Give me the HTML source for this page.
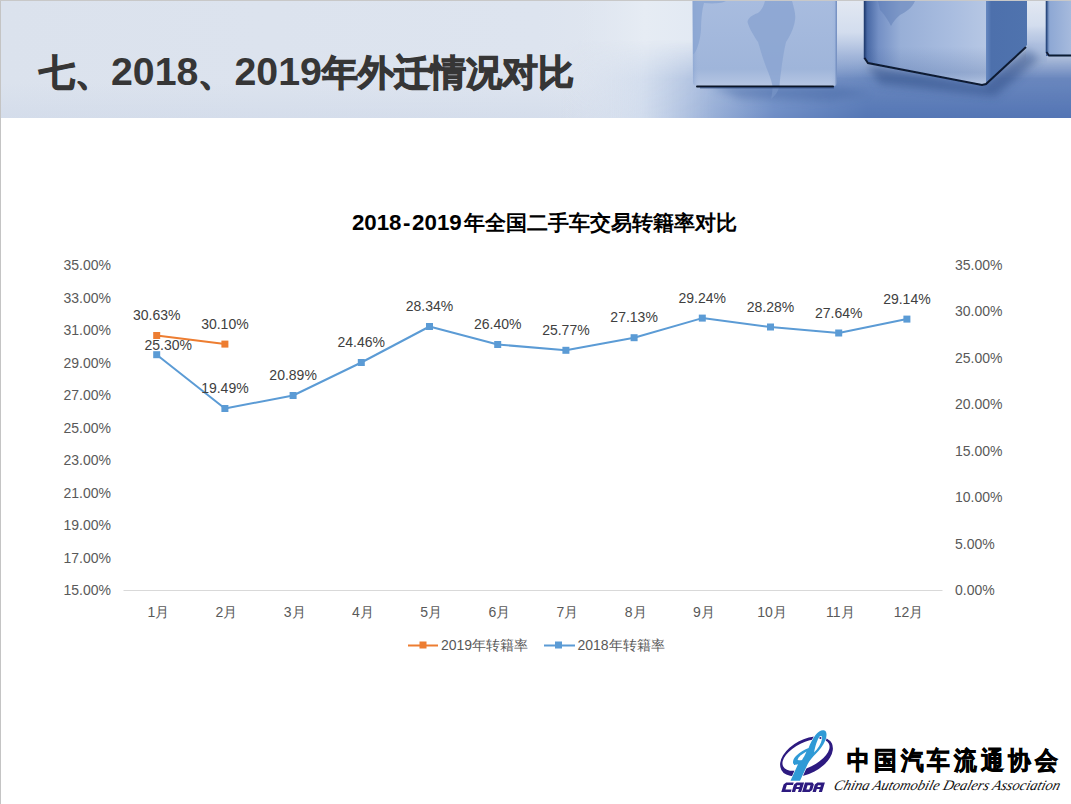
<!DOCTYPE html>
<html><head><meta charset="utf-8">
<style>
html,body{margin:0;padding:0;background:#fff;}
body{width:1071px;height:804px;overflow:hidden;position:relative;font-family:"Liberation Sans",sans-serif;}
#frameL{position:absolute;left:0;top:0;width:1px;height:804px;background:#c4c4c4;}
#frameT{position:absolute;left:0;top:0;width:1071px;height:1px;background:#c8c8c8;}
#hdr{position:absolute;left:1px;top:1px;width:1070px;height:116.5px;background:linear-gradient(180deg,rgba(220,227,238,0) 0%,rgba(220,227,238,0) 70%,rgba(205,215,232,0.5) 100%),linear-gradient(90deg,#dbe2ed 0%,#dde4ef 50%,#e2e8f1 64%,#e3e9f2 100%);}
#title{position:absolute;left:39px;top:48.5px;font-size:36px;font-weight:bold;color:#363636;white-space:nowrap;letter-spacing:0px;line-height:44px;}
#title .dg{font-size:39.3px;}
#title .cj{-webkit-text-stroke:1.2px #363636;}
svg{position:absolute;left:0;top:0;}
</style></head>
<body>
<div id="hdr"></div>
<svg id="photo" width="1071" height="117.5" viewBox="0 0 1071 117.5">
  <defs>
    <linearGradient id="floorH" x1="560" y1="0" x2="1071" y2="0" gradientUnits="userSpaceOnUse">
      <stop offset="0" stop-color="#d3dcec" stop-opacity="0"/>
      <stop offset="0.16" stop-color="#ccd8eb" stop-opacity="0.8"/>
      <stop offset="0.3" stop-color="#98afd7"/>
      <stop offset="0.42" stop-color="#6e8dc5"/>
      <stop offset="0.6" stop-color="#5577b5"/>
      <stop offset="1" stop-color="#5475b4"/>
    </linearGradient>
    <linearGradient id="floorV" x1="0" y1="40" x2="0" y2="117" gradientUnits="userSpaceOnUse">
      <stop offset="0" stop-color="#fff" stop-opacity="0"/>
      <stop offset="0.5" stop-color="#fff" stop-opacity="0.85"/>
      <stop offset="1" stop-color="#fff" stop-opacity="1"/>
    </linearGradient>
    <mask id="floorMask"><rect x="560" y="0" width="520" height="118" fill="url(#floorV)"/></mask>
    <linearGradient id="bgLight" x1="560" y1="0" x2="700" y2="0" gradientUnits="userSpaceOnUse">
      <stop offset="0" stop-color="#dde4ef" stop-opacity="0"/>
      <stop offset="0.6" stop-color="#e6ecf4"/>
      <stop offset="1" stop-color="#e2e9f3"/>
    </linearGradient>
    <linearGradient id="c1v" x1="0" y1="0" x2="0" y2="1">
      <stop offset="0" stop-color="#a8bcdf"/>
      <stop offset="0.8" stop-color="#9fb5da"/>
      <stop offset="1" stop-color="#b6c6e3"/>
    </linearGradient>
    <linearGradient id="c1h" x1="0" y1="0" x2="1" y2="0">
      <stop offset="0" stop-color="#7f9ccc" stop-opacity="0.5"/>
      <stop offset="0.05" stop-color="#a8bcdf" stop-opacity="0"/>
      <stop offset="0.95" stop-color="#a8bcdf" stop-opacity="0"/>
      <stop offset="1" stop-color="#8aa5d2" stop-opacity="0.4"/>
    </linearGradient>
    <linearGradient id="c2face" x1="864" y1="0" x2="986" y2="0" gradientUnits="userSpaceOnUse">
      <stop offset="0" stop-color="#25427a"/>
      <stop offset="0.03" stop-color="#4a6aa6"/>
      <stop offset="0.12" stop-color="#7490c5"/>
      <stop offset="0.3" stop-color="#98afd7"/>
      <stop offset="0.7" stop-color="#a8bcdf"/>
      <stop offset="1" stop-color="#b6c7e4"/>
    </linearGradient>
    <linearGradient id="c2shade" x1="0" y1="0" x2="0" y2="85" gradientUnits="userSpaceOnUse">
      <stop offset="0" stop-color="#3d5d98" stop-opacity="0"/>
      <stop offset="0.55" stop-color="#3d5d98" stop-opacity="0"/>
      <stop offset="0.85" stop-color="#3d5d98" stop-opacity="0.25"/>
      <stop offset="1" stop-color="#c0d0ea" stop-opacity="0.4"/>
    </linearGradient>
    <linearGradient id="c2side" x1="0" y1="0" x2="1" y2="0">
      <stop offset="0" stop-color="#6a8cc4"/>
      <stop offset="0.15" stop-color="#4d70ac"/>
      <stop offset="1" stop-color="#4f73ae"/>
    </linearGradient>
    <linearGradient id="gap2" x1="0" y1="0" x2="0" y2="1">
      <stop offset="0" stop-color="#e2e8f2"/>
      <stop offset="0.4" stop-color="#d3ddee"/>
      <stop offset="0.7" stop-color="#9db2d9" stop-opacity="0.7"/>
      <stop offset="1" stop-color="#6a8bc4" stop-opacity="0"/>
    </linearGradient>
    <linearGradient id="c3face" x1="0" y1="0" x2="1" y2="0">
      <stop offset="0" stop-color="#3a5a92"/>
      <stop offset="0.15" stop-color="#8ea8d4"/>
      <stop offset="1" stop-color="#a6badd"/>
    </linearGradient>
    <filter id="blur1" x="-20%" y="-50%" width="140%" height="200%"><feGaussianBlur stdDeviation="0.55"/></filter>
    <filter id="blur3" x="-30%" y="-80%" width="160%" height="260%"><feGaussianBlur stdDeviation="4"/></filter>
    <filter id="blur6" x="-30%" y="-80%" width="160%" height="260%"><feGaussianBlur stdDeviation="7"/></filter>
  </defs>
  <rect x="560" y="1" width="140" height="117" fill="url(#bgLight)"/>
  <!-- floor -->
  <g mask="url(#floorMask)"><rect x="560" y="0" width="511" height="118" fill="url(#floorH)"/></g>
  <!-- cube shadows on floor -->
  <polygon points="710,86 838,86 870,93 830,101 740,98" fill="#4566a3" opacity="0.45" filter="url(#blur3)"/>
  <polygon points="866,64 983,86 1027,47 1040,58 995,96 880,84" fill="#2c4a82" opacity="0.5" filter="url(#blur3)"/>
  <!-- gaps -->
  <rect x="836" y="1" width="29" height="78" fill="url(#gap2)"/>
  <rect x="1026" y="1" width="21" height="62" fill="url(#gap2)"/>
  <!-- cube 2 right face -->
  <polygon points="985,1 1027,1 1027,45 985,85" fill="url(#c2side)"/>
  <!-- cube 2 front -->
  <polygon points="864,1 986,1 986,85 870,64 864,58" fill="url(#c2face)"/><polygon points="864,1 986,1 986,85 870,64 864,58" fill="url(#c2shade)"/>
  <polyline points="864.5,1 864.5,59" fill="none" stroke="#233f73" stroke-width="1.5"/><polyline points="864.5,58 868,63 982,85 986,84 1026,47" fill="none" stroke="#0d1a33" stroke-width="2" filter="url(#blur1)"/>
  <!-- cube 3 -->
  <rect x="1046" y="1" width="25" height="55" fill="url(#c3face)"/>
  <polyline points="1046.5,1 1046.5,53" fill="none" stroke="#2b4a80" stroke-width="1.6"/><polyline points="1046.5,52 1049,55.5 1071,55.5" fill="none" stroke="#0d1a33" stroke-width="1.8" filter="url(#blur1)"/>
  <!-- cube 1 front -->
  <path d="M692.5,1 H837 V82 Q837,86 833,86 H697 Q693,86 693,82 Z" fill="url(#c1v)"/>
  <path d="M692.5,1 H837 V82 Q837,86 833,86 H697 Q693,86 693,82 Z" fill="url(#c1h)"/>
  <!-- map shapes -->
  <path d="M765,1 L792,1 C794,8 796,14 795,20 C794,28 790,36 786,42 C784,50 783,58 782,64 C781,72 780,78 779.5,86 L772.5,86 C771,78 768,72 765,64 C762,56 760,48 758,42 C754,36 749,28 747.5,22 C748,18 752,15 758,13 C762,10 764,5 765,1 Z" fill="#89a4d1" opacity="0.8"/>
  <path d="M772.5,86 L779.5,86 C778,92 775,96 771,99 C772,94 772.5,90 772.5,86 Z" fill="#7f9bcc" opacity="0.5"/>
  <path d="M693,1 L726,1 C722,3 716,4 704,3 C702,10 701,20 701,30 C700,40 698,48 694,54 L693,54 Z" fill="#8aa5d2" opacity="0.8"/>
  <path d="M878,1 L915,1 C912,8 906,12 900,15 C896,18 893,22 891,26 C888,20 884,14 880,10 Z" fill="#5a7ab4" opacity="0.45"/>
  
  <rect x="835.5" y="1" width="1.5" height="84" fill="#6a86bb" opacity="0.7"/><rect x="696" y="85.4" width="138" height="2" rx="1" fill="#0b1526"/><rect x="700" y="87" width="134" height="1.5" fill="#2a4375" opacity="0.6"/>
</svg>
<div id="frameL"></div><div id="frameT"></div>
<div id="title"><span class="cj">七、</span><span class="dg">2018</span><span class="cj">、</span><span class="dg">2019</span><span class="cj">年外迁情况对比</span></div>

<svg id="chart" width="1071" height="804" viewBox="0 0 1071 804" style="font-family:'Liberation Sans',sans-serif">
  <text y="230" font-weight="bold" fill="#000"><tspan x="351.9" font-size="22.3">2018</tspan><tspan font-size="22.3" dx="1.6">-</tspan><tspan x="412.1" font-size="22.3">2019</tspan><tspan x="463.8" font-size="20.6" style="-webkit-text-stroke:0.5px #000">年全国二手车交易转籍率对比</tspan></text>
  <g font-size="14" fill="#595959" text-anchor="end">
    <text x="111" y="270">35.00%</text>
    <text x="111" y="302.5">33.00%</text>
    <text x="111" y="335">31.00%</text>
    <text x="111" y="367.5">29.00%</text>
    <text x="111" y="400">27.00%</text>
    <text x="111" y="432.5">25.00%</text>
    <text x="111" y="465">23.00%</text>
    <text x="111" y="497.5">21.00%</text>
    <text x="111" y="530">19.00%</text>
    <text x="111" y="562.5">17.00%</text>
    <text x="111" y="595">15.00%</text>
  </g>
  <g font-size="14" fill="#595959" text-anchor="start">
    <text x="955" y="270">35.00%</text>
    <text x="955" y="316.4">30.00%</text>
    <text x="955" y="362.9">25.00%</text>
    <text x="955" y="409.3">20.00%</text>
    <text x="955" y="455.7">15.00%</text>
    <text x="955" y="502.1">10.00%</text>
    <text x="955" y="548.6">5.00%</text>
    <text x="955" y="595">0.00%</text>
  </g>
  <line x1="123.5" y1="590.5" x2="942.5" y2="590.5" stroke="#d9d9d9" stroke-width="1"/>
  <g font-size="14" fill="#595959" text-anchor="middle">
    <text x="158.3" y="617">1月</text>
    <text x="226.5" y="617">2月</text>
    <text x="294.7" y="617">3月</text>
    <text x="362.9" y="617">4月</text>
    <text x="431.1" y="617">5月</text>
    <text x="499.3" y="617">6月</text>
    <text x="567.5" y="617">7月</text>
    <text x="635.7" y="617">8月</text>
    <text x="703.9" y="617">9月</text>
    <text x="772.1" y="617">10月</text>
    <text x="840.3" y="617">11月</text>
    <text x="908.5" y="617">12月</text>
  </g>
  <g id="series">
<polyline points="156.7,354.7 224.9,408.5 293.1,395.5 361.3,362.5 429.5,326.5 497.7,344.5 565.9,350.3 634.1,337.7 702.3,318.1 770.5,327.0 838.7,333.0 906.9,319.1" fill="none" stroke="#5B9BD5" stroke-width="2" stroke-linejoin="round"/>
<rect x="153.2" y="351.2" width="7" height="7" fill="#5B9BD5"/>
<rect x="221.4" y="405.0" width="7" height="7" fill="#5B9BD5"/>
<rect x="289.6" y="392.0" width="7" height="7" fill="#5B9BD5"/>
<rect x="357.8" y="359.0" width="7" height="7" fill="#5B9BD5"/>
<rect x="426.0" y="323.0" width="7" height="7" fill="#5B9BD5"/>
<rect x="494.2" y="341.0" width="7" height="7" fill="#5B9BD5"/>
<rect x="562.4" y="346.8" width="7" height="7" fill="#5B9BD5"/>
<rect x="630.6" y="334.2" width="7" height="7" fill="#5B9BD5"/>
<rect x="698.8" y="314.6" width="7" height="7" fill="#5B9BD5"/>
<rect x="767.0" y="323.5" width="7" height="7" fill="#5B9BD5"/>
<rect x="835.2" y="329.5" width="7" height="7" fill="#5B9BD5"/>
<rect x="903.4" y="315.6" width="7" height="7" fill="#5B9BD5"/>
<polyline points="156.7,335.5 224.9,344.1" fill="none" stroke="#ED7D31" stroke-width="2" stroke-linejoin="round"/>
<rect x="153.2" y="332.0" width="7" height="7" fill="#ED7D31"/>
<rect x="221.4" y="340.6" width="7" height="7" fill="#ED7D31"/>
<g font-size="14" fill="#404040" text-anchor="middle">
<text x="168.3" y="349.8">25.30%</text>
<text x="224.9" y="393.0">19.49%</text>
<text x="293.1" y="380.0">20.89%</text>
<text x="361.3" y="347.0">24.46%</text>
<text x="429.5" y="311.0">28.34%</text>
<text x="497.7" y="329.0">26.40%</text>
<text x="565.9" y="334.8">25.77%</text>
<text x="634.1" y="322.2">27.13%</text>
<text x="702.3" y="302.6">29.24%</text>
<text x="770.5" y="311.5">28.28%</text>
<text x="838.7" y="317.5">27.64%</text>
<text x="906.9" y="303.6">29.14%</text>
<text x="156.7" y="320.0">30.63%</text>
<text x="224.9" y="328.6">30.10%</text>
</g>

</g>
  <g id="legend">
  <line x1="408" y1="645.5" x2="438" y2="645.5" stroke="#ED7D31" stroke-width="2"/>
  <rect x="419.5" y="641.5" width="7" height="7" fill="#ED7D31"/>
  <text x="441" y="650" font-size="14" fill="#595959">2019年转籍率</text>
  <line x1="544" y1="645.5" x2="575" y2="645.5" stroke="#5B9BD5" stroke-width="2"/>
  <rect x="555" y="641.5" width="7" height="7" fill="#5B9BD5"/>
  <text x="577.5" y="650" font-size="14" fill="#595959">2018年转籍率</text>
</g>
</svg>
<svg id="logo" width="1071" height="804" viewBox="0 0 1071 804" style="position:absolute;left:0;top:0">
  <defs>
    <mask id="ringmask">
      <rect x="760" y="720" width="100" height="80" fill="#fff"/>
      <ellipse cx="806" cy="755" rx="25.5" ry="12.5" transform="rotate(-26 806 755)" fill="#000"/>
    </mask>
  </defs>
  <g mask="url(#ringmask)"><ellipse cx="806.5" cy="756.5" rx="28.5" ry="17" transform="rotate(-28 806.5 756.5)" fill="#2d1a80"/></g>
  <path d="M790.5,780.8 L800,780.8 L807.5,764.5 C809.5,760.5 812.5,757 815.6,754 C819,750.5 823,746 825.5,740 C827,736 827,731.5 824.5,730.5 C822,729.5 818.5,731 815.5,735 C812.5,739 810,744 808.6,748 C805,749.5 800,752 796,756 C793.5,758.5 792.5,761.5 793.2,763.5 C794,765 796.5,764.8 798,764.2 Z" fill="#2f9ad6" stroke="#fff" stroke-width="1.2" paint-order="stroke"/>
  <path d="M797.5,759.5 C799,756.5 802,754 806.5,751.5 C805,755 803.5,757.5 802,760 C800.5,760.5 798.5,760.5 797.5,759.5 Z" fill="#fff"/>
  <path d="M819.5,736.5 C821.5,735 822.5,736.5 822,739 C821,744 818,749 814,752.5 C815,747 817,740 819.5,736.5 Z" fill="#fff"/>
  <circle cx="820.4" cy="738" r="1.1" fill="#2d1a80"/>
  <g transform="translate(781.3 792) skewX(-17)"><path d="M2.00,-9.50 L9.50,-9.50 L9.50,-7.00 L3.40,-7.00 L3.40,-2.60 L9.50,-2.60 L9.50,0.00 L0.00,0.00 L0.00,-7.50 Z M12.40,-9.50 L19.90,-9.50 L19.90,0.00 L16.70,0.00 L16.70,-3.00 L13.80,-3.00 L13.80,0.00 L10.40,0.00 L10.40,-7.50 Z M13.80,-6.80 L16.70,-6.80 L16.70,-5.00 L13.80,-5.00 Z M20.80,-9.50 L28.30,-9.50 L30.30,-7.50 L30.30,-2.00 L28.30,0.00 L20.80,0.00 Z M24.20,-6.80 L27.10,-6.80 L27.10,-2.60 L24.20,-2.60 Z M33.20,-9.50 L40.70,-9.50 L40.70,0.00 L37.50,0.00 L37.50,-3.00 L34.60,-3.00 L34.60,0.00 L31.20,0.00 L31.20,-7.50 Z M34.60,-6.80 L37.50,-6.80 L37.50,-5.00 L34.60,-5.00 Z" fill="#2d1a80" fill-rule="evenodd"/></g>
  <text x="847" y="0" font-family="'Liberation Sans',sans-serif" font-weight="bold" font-size="23" fill="#000" stroke="#000" stroke-width="0.7" letter-spacing="4" transform="translate(0 768.5) scale(1 1.1)">中国汽车流通协会</text>
  <g transform="translate(0 789.5) skewX(-16)"><text x="833" y="0" font-family="'Liberation Serif',serif" font-style="italic" font-size="14.5" fill="#111" textLength="226" lengthAdjust="spacingAndGlyphs">China  Automobile Dealers  Association</text></g>
</svg>
</body></html>
